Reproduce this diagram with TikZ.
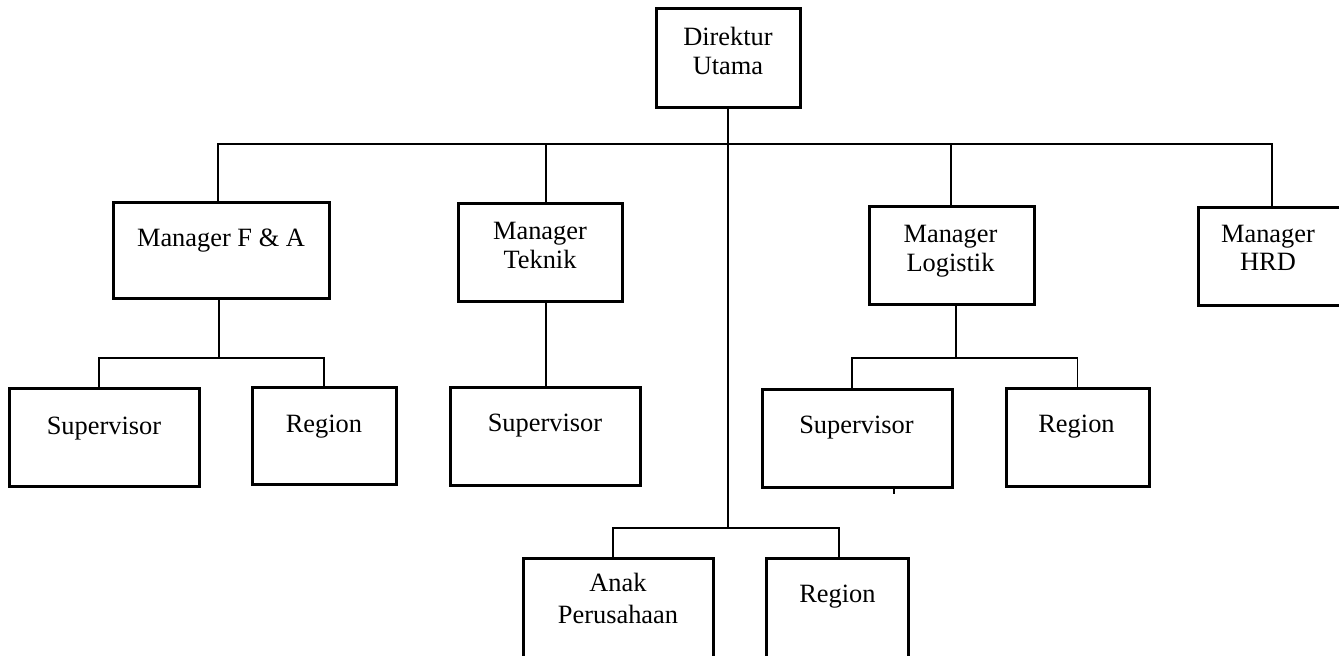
\documentclass[tikz,border=0pt]{standalone}
\usepackage{fontspec}
\setmainfont{Liberation Serif}
\begin{document}
\begin{tikzpicture}[x=0.5pt,y=-0.5pt,
  box/.style={draw=black,line width=1.5pt,rectangle,inner sep=0pt,outer sep=0pt},
  conn/.style={draw=black,line width=0.75pt},
  lbl/.style={inner sep=0pt,anchor=base,font=\fontsize{13.2}{15}\selectfont}]
\useasboundingbox (0,0) rectangle (1339,655);
\clip (0,0) rectangle (1339,655);
% boxes
\node[box,minimum width=72pt,minimum height=49.5pt] (dir) at (728,57.5) {};
\node[box,minimum width=108pt,minimum height=48pt] (fa) at (221,250) {};
\node[box,minimum width=82pt,minimum height=49pt] (tek) at (540,252) {};
\node[box,minimum width=82.5pt,minimum height=49pt] (log) at (951.5,255) {};
\node[box,minimum width=90pt,minimum height=49pt] (hrd) at (1288,256) {};
\node[box,minimum width=95pt,minimum height=49pt] (fas) at (104,437) {};
\node[box,minimum width=72pt,minimum height=48.5pt] (far) at (324,435.5) {};
\node[box,minimum width=95pt,minimum height=49pt] (tes) at (545,436) {};
\node[box,minimum width=95pt,minimum height=49pt] (los) at (857,438) {};
\node[box,minimum width=71.5pt,minimum height=49pt] (lor) at (1077.5,437) {};
\node[box,minimum width=95pt,minimum height=65pt] (anak) at (618,623) {};
\node[box,minimum width=71pt,minimum height=65pt] (anr) at (837,623) {};
% texts
\node[lbl] (t1) at (728,45) {Direktur};
\node[lbl] (t2) at (728,74) {Utama};
\node[lbl] (t3) at (221,246) {Manager F \& A};
\node[lbl] (t4) at (540,239) {Manager};
\node[lbl] (t5) at (540,268) {Teknik};
\node[lbl] (t6) at (950.5,242) {Manager};
\node[lbl] (t7) at (950.5,271) {Logistik};
\node[lbl] (t8) at (1268,242) {Manager};
\node[lbl] (t9) at (1268,270) {HRD};
\node[lbl] (t10) at (104,434) {Supervisor};
\node[lbl] (t11) at (324,432) {Region};
\node[lbl] (t12) at (545,431) {Supervisor};
\node[lbl] (t13) at (856.5,433) {Supervisor};
\node[lbl] (t14) at (1076.5,432) {Region};
\node[lbl] (t15) at (618,591) {Anak};
\node[lbl] (t16) at (618,623) {Perusahaan};
\node[lbl] (t17) at (837.5,602) {Region};
% bus coordinates
\coordinate (mainbus) at (728,144);
\coordinate (fabus) at (219,358);
\coordinate (logbus) at (956,358);
\coordinate (anakbus) at (728,528);
\coordinate (tickend) at (894,494);
% connectors
\draw[conn] (dir.south) -- (anakbus);
\draw[conn] ([xshift=-1.5pt]fa.north) |- (mainbus);
\draw[conn] ([xshift=-8pt]hrd.north) |- (mainbus);
\draw[conn] ([xshift=3pt]tek.north) -- ([xshift=3pt]tek.north |- mainbus);
\draw[conn] ([xshift=-0.25pt]log.north) -- ([xshift=-0.25pt]log.north |- mainbus);
\draw[conn] ([xshift=-1pt]fa.south) -- (fabus);
\draw[conn] ([xshift=-2.5pt]fas.north) |- (fabus) -| (far.north);
\draw[conn] ([xshift=3pt]tek.south) -- ([xshift=3pt]tek.south |- tes.north);
\draw[conn] ([xshift=2.25pt]log.south) -- (logbus);
\draw[conn] ([xshift=-2.5pt]los.north) |- (logbus) -| (lor.north);
\draw[conn] ([xshift=-2.5pt]anak.north) |- (anakbus) -| ([xshift=1pt]anr.north);
\draw[conn] ([xshift=18.5pt]los.south) -- (tickend);
\end{tikzpicture}
\end{document}
